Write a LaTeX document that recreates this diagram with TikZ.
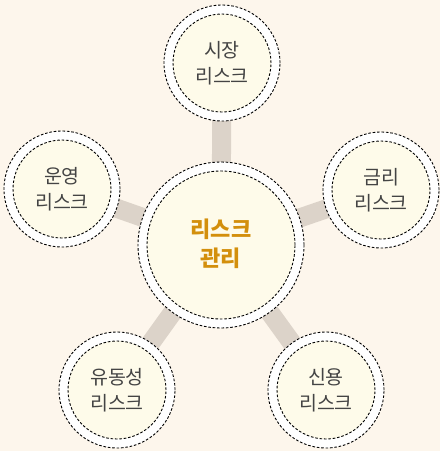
\documentclass[tikz,border=0pt]{standalone}
\usepackage{fontspec}
\newfontfamily\kr{Noto Sans CJK KR}
\definecolor{bg}{HTML}{FDF6EC}
\definecolor{innerfill}{HTML}{FEFBEA}
\definecolor{linkc}{HTML}{DCD3C9}
\definecolor{txt}{HTML}{444444}
\definecolor{maintxt}{HTML}{D38F0C}
\tikzset{
  outerring/.style={circle, draw=black, line width=0.9pt, dash pattern=on 2.6pt off 1.8pt, fill=white},
  innerring/.style={circle, draw=black, line width=0.9pt, dash pattern=on 2.6pt off 1.8pt, fill=innerfill},
  sattext/.style={font=\kr\fontsize{19.5}{25.5}\selectfont, text=txt, align=center},
  maintext/.style={font=\kr\bfseries\fontsize{22}{29}\selectfont, text=maintxt, align=center},
  link/.style={draw=linkc, line width=19pt}
}
\begin{document}
\begin{tikzpicture}[x=1pt,y=-1pt]
\fill[bg] (0,0) rectangle (440,451);
\useasboundingbox (0,0) rectangle (440,451);
\coordinate (c) at (221,245);
\coordinate (t) at (222,63);
\coordinate (l) at (62,189);
\coordinate (r) at (381,190);
\coordinate (bl) at (117,390);
\coordinate (br) at (326,390);
\foreach \p in {t,l,r,bl,br} \draw[link] (c) -- (\p);
% center
\node[outerring, minimum size=166pt, inner sep=0pt] (co) at (c) {};
\node[innerring, minimum size=148pt, inner sep=0pt] (ci) at (c) {};
\node[maintext] (ct) at (221,244) {리스크\\관리};
% satellites
\foreach \p/\n/\a in {t/to/시장, l/lo/운영, r/ro/금리, bl/blo/유동성, br/bro/신용}{
  \node[outerring, minimum size=116pt, inner sep=0pt] (\n) at (\p) {};
  \node[innerring, minimum size=98pt, inner sep=0pt] (\n i) at (\p) {};
  \node[sattext] (\n t) at (\p) {\a\\리스크};
}
\end{tikzpicture}
\end{document}
